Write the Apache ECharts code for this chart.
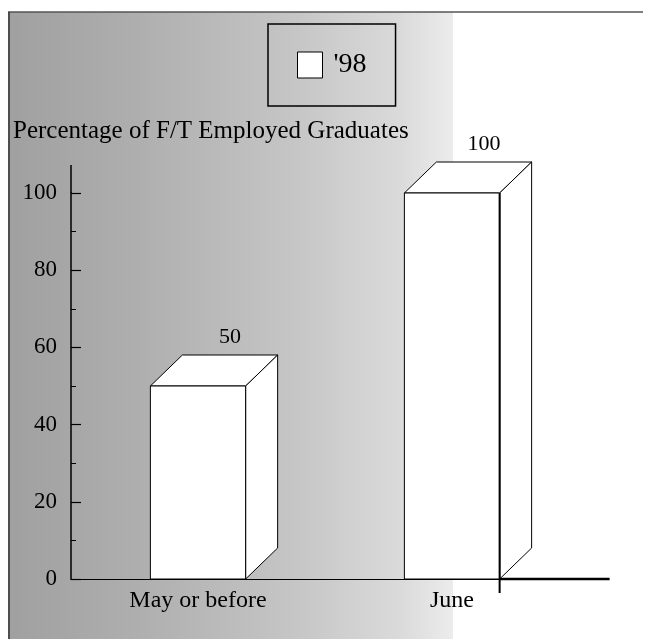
<!DOCTYPE html>
<html>
<head>
<meta charset="utf-8">
<script src="https://cdn.jsdelivr.net/npm/echarts@6/dist/echarts.min.js"></script>
<style>
  html, body { margin: 0; padding: 0; background: #fff; }
  #main { width: 651px; height: 639px; }
</style>
</head>
<body>
<div id="main"></div>
<script>
// data
const categories = ["May or before", "June"];
const seriesName = "'98";
const values = [50, 100];
const yTicks = [0, 20, 40, 60, 80, 100];

const FONT = "'Liberation Serif', 'DejaVu Serif', serif";
const DEPTH_X = 32; // 3d offset of the box
const DEPTH_Y = 31;

const myChart = echarts.init(document.getElementById("main"));

function renderBox(params, api) {
  const idx = api.value(0);
  const val = api.value(1);
  const top = api.coord([idx, val]);
  const base = api.coord([idx, 0]);
  const w = api.size([1, 0])[0] * 0.375;
  const x0 = top[0] - w / 2;
  const x1 = top[0] + w / 2;
  const y0 = top[1];
  const y1 = base[1];
  const style = { fill: "#fff", stroke: "#000", lineWidth: 1 };
  const children = [
    {
      type: "polygon",
      shape: { points: [[x0, y0], [x0 + DEPTH_X, y0 - DEPTH_Y], [x1 + DEPTH_X, y0 - DEPTH_Y], [x1, y0]] },
      style: style,
    },
    {
      type: "polygon",
      shape: { points: [[x1, y0], [x1 + DEPTH_X, y0 - DEPTH_Y], [x1 + DEPTH_X, y1 - DEPTH_Y], [x1, y1]] },
      style: style,
    },
    {
      type: "rect",
      shape: { x: x0, y: y0, width: w, height: y1 - y0 },
      style: style,
    },
    {
      type: "text",
      style: {
        text: String(val),
        x: top[0] + DEPTH_X,
        y: y0 - DEPTH_Y - 18,
        textAlign: "center",
        textVerticalAlign: "middle",
        font: "22px " + FONT,
        fill: "#000",
      },
    },
  ];
  const cs = params.coordSys;
  if (params.dataIndex === 0) {
    // y axis line runs a bit past the top tick
    children.push({
      type: "line",
      shape: { x1: cs.x, y1: cs.y, x2: cs.x, y2: cs.y - 28 },
      style: { stroke: "#000", lineWidth: 1.5 },
    });
  }
  if (params.dataIndex === values.length - 1) {
    // heavy floor line and the front edge running through the axis
    children.push({
      type: "line",
      shape: { x1: x1, y1: y0, x2: x1, y2: y1 + 14 },
      style: { stroke: "#000", lineWidth: 2 },
    });
    children.push({
      type: "line",
      shape: { x1: x1, y1: y1, x2: x1 + 110, y2: y1 },
      style: { stroke: "#000", lineWidth: 2.5 },
    });
  }
  return { type: "group", children: children };
}

const option = {
  animation: false,
  backgroundColor: "#fff",
  title: {
    text: "Percentage of F/T Employed Graduates",
    left: 13,
    top: 119,
    padding: 0,
    textStyle: { fontFamily: FONT, fontSize: 25, fontWeight: "normal", color: "#000" },
  },
  legend: {
    left: 268,
    top: 24,
    padding: [27, 29, 27, 29],
    borderColor: "#000",
    borderWidth: 1.5,
    itemWidth: 25,
    itemHeight: 26,
    selectedMode: false,
    textStyle: { fontFamily: FONT, fontSize: 28, color: "#000", padding: [0, 0, 0, 6] },
    data: [
      { name: seriesName, icon: "rect", itemStyle: { color: "#fff", borderColor: "#000", borderWidth: 1 } },
    ],
  },
  graphic: [
    {
      type: "rect",
      z: -10,
      shape: { x: 8, y: 12, width: 445, height: 627 },
      style: {
        fill: new echarts.graphic.LinearGradient(0, 0, 1, 0, [
          { offset: 0, color: "#a0a0a0" },
          { offset: 0.3, color: "#afafaf" },
          { offset: 0.65, color: "#c6c6c6" },
          { offset: 0.88, color: "#dadada" },
          { offset: 1, color: "#ececec" },
        ]),
      },
    },
    {
      type: "line",
      z: -9,
      shape: { x1: 8, y1: 12, x2: 643, y2: 12 },
      style: { stroke: "#555", lineWidth: 1.5 },
    },
    {
      type: "line",
      z: -9,
      shape: { x1: 9, y1: 12, x2: 9, y2: 639 },
      style: { stroke: "#333", lineWidth: 1.5 },
    },
  ],
  grid: { left: 71, top: 193, width: 508, height: 386 },
  xAxis: {
    type: "category",
    data: categories,
    axisLine: { lineStyle: { color: "#000", width: 1.2 } },
    axisTick: { inside: true, alignWithLabel: true, length: 10, lineStyle: { color: "#777" } },
    axisLabel: { fontFamily: FONT, fontSize: 24, color: "#000", margin: 10 },
  },
  yAxis: {
    type: "value",
    min: yTicks[0],
    max: yTicks[yTicks.length - 1],
    interval: yTicks[1] - yTicks[0],
    axisLine: { show: true, lineStyle: { color: "#000", width: 1.5 } },
    axisTick: { show: true, inside: true, length: 10, lineStyle: { color: "#000", width: 1.2 } },
    minorTick: { show: true, splitNumber: 2, length: 5, lineStyle: { color: "#000" } },
    splitLine: { show: false },
    axisLabel: { fontFamily: FONT, fontSize: 23, color: "#000", margin: 14 },
  },
  series: [
    {
      type: "custom",
      name: seriesName,
      renderItem: renderBox,
      encode: { x: 0, y: 1 },
      data: values.map(function (v, i) { return [i, v]; }),
    },
  ],
};

myChart.setOption(option);
</script>
</body>
</html>
